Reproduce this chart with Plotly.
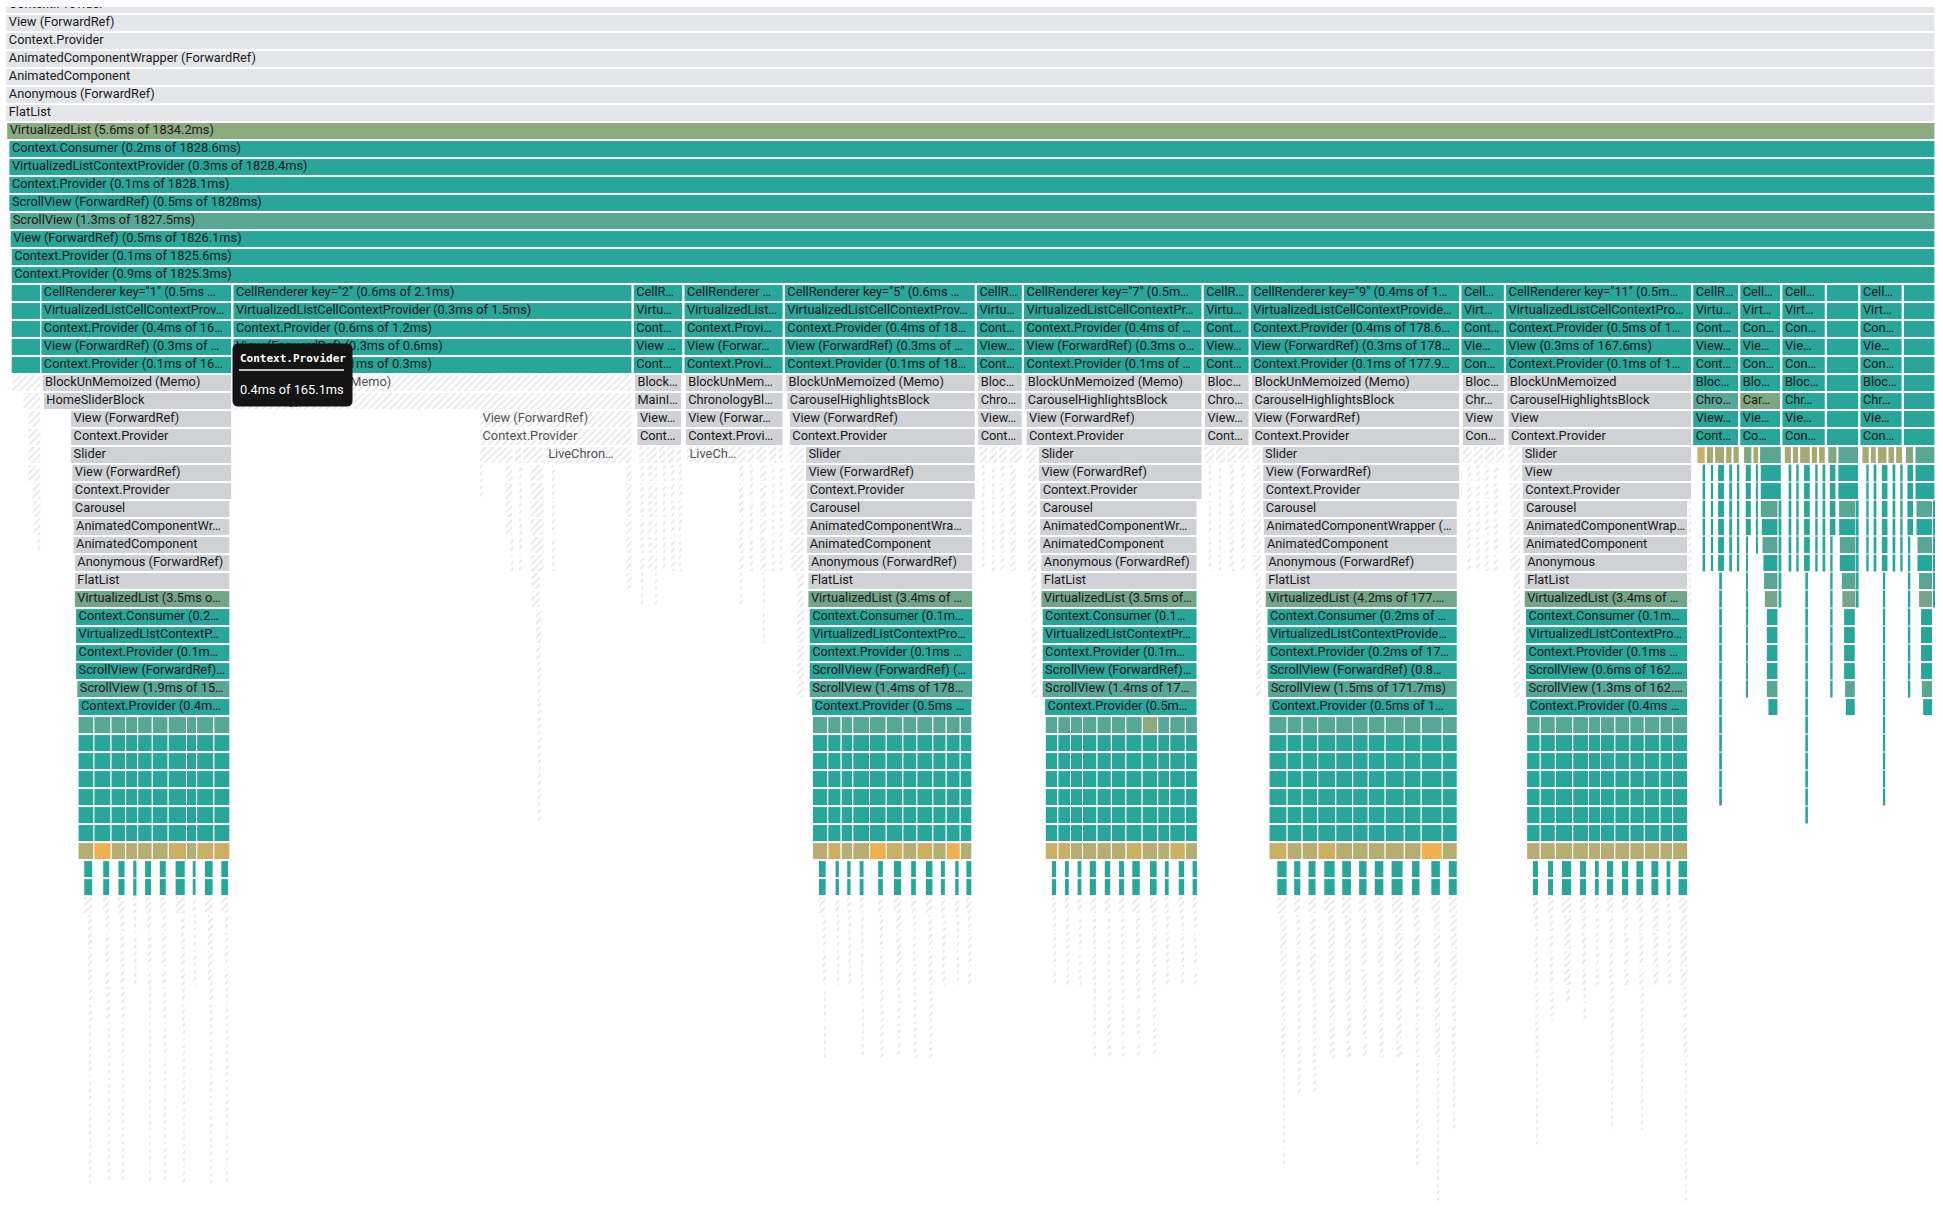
import plotly.graph_objects as go

# ---------------- DATA (timeline units, depth rows) ----------------
root_labels = ["Context.Provider", "View (ForwardRef)", "Context.Provider",
               "AnimatedComponentWrapper (ForwardRef)", "AnimatedComponent",
               "Anonymous (ForwardRef)", "FlatList",
               "VirtualizedList (5.6ms of 1834.2ms)",
               "Context.Consumer (0.2ms of 1828.6ms)",
               "VirtualizedListContextProvider (0.3ms of 1828.4ms)",
               "Context.Provider (0.1ms of 1828.1ms)",
               "ScrollView (ForwardRef) (0.5ms of 1828ms)",
               "ScrollView (1.3ms of 1827.5ms)",
               "View (ForwardRef) (0.5ms of 1826.1ms)",
               "Context.Provider (0.1ms of 1825.6ms)",
               "Context.Provider (0.9ms of 1825.3ms)"]
root_kinds = ["g0"] * 7 + ["v", "t", "t", "t", "t", "s", "t", "t", "t"]
root_start = [4.7] * 7 + [5.4, 7.2, 7.2, 7.2, 7.2, 7.9, 8.2, 9.0, 9.0]
root_end = [1561.5] * 16

cell_start = [9, 33, 188, 511, 552, 633, 788, 826, 971, 1009, 1179, 1215, 1366, 1404, 1438, 1474, 1501, 1536]
cell_end = [33, 187, 510, 551, 632, 787, 825, 970, 1008, 1178, 1214, 1365, 1403, 1437, 1473, 1500, 1535, 1561.5]
cell_labels = [
    ["", "", "", "", ""],
    ['CellRenderer key="1" (0.5ms …', "VirtualizedListCellContextProv…", "Context.Provider (0.4ms of 16…", "View (ForwardRef) (0.3ms of …", "Context.Provider (0.1ms of 16…"],
    ['CellRenderer key="2" (0.6ms of 2.1ms)', "VirtualizedListCellContextProvider (0.3ms of 1.5ms)", "Context.Provider (0.6ms of 1.2ms)", "View (ForwardRef) (0.3ms of 0.6ms)", "Context.Provider (0.1ms of 0.3ms)"],
    ["CellR…", "Virtu…", "Cont…", "View …", "Cont…"],
    ["CellRenderer …", "VirtualizedList…", "Context.Provi…", "View (Forwar…", "Context.Provi…"],
    ['CellRenderer key="5" (0.6ms …', "VirtualizedListCellContextProv…", "Context.Provider (0.4ms of 18…", "View (ForwardRef) (0.3ms of …", "Context.Provider (0.1ms of 18…"],
    ["CellR…", "Virtu…", "Cont…", "View…", "Cont…"],
    ['CellRenderer key="7" (0.5m…', "VirtualizedListCellContextPr…", "Context.Provider (0.4ms of …", "View (ForwardRef) (0.3ms o…", "Context.Provider (0.1ms of …"],
    ["CellR…", "Virtu…", "Cont…", "View…", "Cont…"],
    ['CellRenderer key="9" (0.4ms of 1…', "VirtualizedListCellContextProvide…", "Context.Provider (0.4ms of 178.6…", "View (ForwardRef) (0.3ms of 178…", "Context.Provider (0.1ms of 177.9…"],
    ["Cell…", "Virt…", "Cont…", "Vie…", "Con…"],
    ['CellRenderer key="11" (0.5m…', "VirtualizedListCellContextPro…", "Context.Provider (0.5ms of 1…", "View (0.3ms of 167.6ms)", "Context.Provider (0.1ms of 1…"],
    ["CellR…", "Virtu…", "Cont…", "View…", "Cont…"],
    ["Cell…", "Virt…", "Con…", "Vie…", "Con…"],
    ["Cell…", "Virt…", "Con…", "Vie…", "Con…"],
    ["", "", "", "", ""],
    ["Cell…", "Virt…", "Con…", "Vie…", "Con…"],
    ["", "", "", "", ""],
]

# (row, start, end, kind, label)
c0_bars = [(21, 9.7, 33, "h", ""), (22, 18.6, 33, "h", ""), (23, 22.6, 33, "h", ""),
           (24, 22.6, 33, "h", ""), (25, 22.6, 33, "h", ""), (26, 22.6, 33, "h", ""),
           (27, 25.8, 33, "h", ""), (28, 26.6, 33, "h", ""), (29, 26.6, 33, "h", ""),
           (30, 29.9, 33, "h", "")]

c1_bars = [(21, 34, 187, "g", "BlockUnMemoized (Memo)"), (22, 35, 187, "g", "HomeSliderBlock"),
           (23, 57, 187, "g", "View (ForwardRef)"), (24, 57, 187, "g", "Context.Provider"),
           (25, 57, 187, "g", "Slider"), (26, 58, 187, "g", "View (ForwardRef)"),
           (27, 58, 187, "g", "Context.Provider"), (28, 58, 185.5, "g", "Carousel"),
           (29, 59, 185.5, "g", "AnimatedComponentWr…"), (30, 59, 185.5, "g", "AnimatedComponent"),
           (31, 60, 185.5, "g", "Anonymous (ForwardRef)"), (32, 60, 185.5, "g", "FlatList"),
           (33, 60, 185.5, "w", "VirtualizedList (3.5ms o…"),
           (34, 61, 185.5, "t", "Context.Consumer (0.2…"),
           (35, 61, 185.5, "t", "VirtualizedListContextP…"),
           (36, 61, 185.5, "t", "Context.Provider (0.1m…"),
           (37, 61, 185.5, "t", "ScrollView (ForwardRef)…"),
           (38, 62, 185.5, "s", "ScrollView (1.9ms of 15…"),
           (39, 63, 185.5, "t", "Context.Provider (0.4m…")]

c2_bars = [(21, 188, 510, "h", "BlockUnMemoized (Memo)"), (22, 188, 510, "h", "ChronologyBlock"),
           (23, 387, 510, "h", "View (ForwardRef)"), (24, 387, 510, "h", "Context.Provider"),
           (25, 387, 414, "h", ""), (25, 415, 421, "h", ""), (25, 422, 439, "h", ""),
           (25, 440, 510, "h", "LiveChron…")]
c2_lines = [(387.4, 389.5, 26, 27), (407.6, 413.8, 26, 29), (412, 414.3, 30, 31), (419, 421, 26, 31),
            (427.8, 439, 26, 31), (428.6, 435.8, 32, 33), (432.3, 436.9, 34, 36), (434, 436.5, 37, 45),
            (445, 448, 26, 31), (505, 510, 26, 32)]

c3_bars = [(21, 512, 550, "g", "Block…"), (22, 512, 550, "g", "MainI…"),
           (23, 514, 550, "g", "View…"), (24, 514, 550, "g", "Cont…"),
           (25, 515.5, 520.5, "h", ""), (25, 521.3, 530.5, "h", ""), (25, 531.3, 537.5, "h", ""),
           (25, 538.1, 544.8, "h", ""), (25, 545.6, 550, "h", "")]
c3_lines = [(516.5, 519.9, 26, 31), (522.9, 526.9, 26, 31), (527.7, 530.9, 26, 31), (534.4, 537.6, 26, 31),
            (541, 544.8, 26, 31), (548, 550, 26, 31), (517.9, 519.2, 32, 33), (528.6, 530, 32, 33)]

c4_bars = [(21, 553, 632, "g", "BlockUnMem…"), (22, 553, 632, "g", "ChronologyBl…"),
           (23, 553, 632, "g", "View (Forwar…"), (24, 553, 632, "g", "Context.Provi…"),
           (25, 554, 602, "h", "LiveCh…"), (25, 603, 609, "h", ""), (25, 610, 619, "h", ""),
           (25, 620, 627, "h", ""), (25, 628, 632, "h", "")]
c4_lines = [(596, 600.4, 26, 31), (597.2, 598.8, 32, 33), (604.7, 607.9, 26, 31), (613.3, 618.7, 26, 31),
            (615.4, 617.3, 32, 35), (622.7, 625.4, 26, 31), (629.5, 631.6, 26, 31)]

c5_bars = [(21, 634, 787, "g", "BlockUnMemoized (Memo)"), (22, 635, 787, "g", "CarouselHighlightsBlock"),
           (23, 637, 787, "g", "View (ForwardRef)"), (24, 637, 787, "g", "Context.Provider"),
           (25, 637, 649, "h", ""), (25, 650, 787, "g", "Slider"),
           (26, 650, 787, "g", "View (ForwardRef)"), (27, 651, 787, "g", "Context.Provider"),
           (28, 651, 785, "g", "Carousel"), (29, 651, 785, "g", "AnimatedComponentWra…"),
           (30, 651, 785, "g", "AnimatedComponent"), (31, 652, 785, "g", "Anonymous (ForwardRef)"),
           (32, 652, 785, "g", "FlatList"), (33, 652, 785, "w", "VirtualizedList (3.4ms of …"),
           (34, 653, 785, "t", "Context.Consumer (0.1m…"),
           (35, 653, 785, "t", "VirtualizedListContextPro…"),
           (36, 653, 785, "t", "Context.Provider (0.1ms …"),
           (37, 653, 785, "t", "ScrollView (ForwardRef) (…"),
           (38, 653, 785, "s", "ScrollView (1.4ms of 178…"),
           (39, 655, 784.3, "t", "Context.Provider (0.5ms …")]
c5_lines = [(638, 649, 26, 31), (643, 649, 32, 38)]

c6_bars = [(21, 789, 825, "g", "Bloc…"), (22, 789, 825, "g", "Chro…"),
           (23, 789, 825, "g", "View…"), (24, 789, 825, "g", "Cont…"),
           (25, 790, 797, "h", ""), (25, 798, 805, "h", ""), (25, 806, 813, "h", ""), (25, 814, 825, "h", "")]
c6_lines = [(792, 795, 26, 31), (800, 803, 26, 31), (807, 811, 26, 31), (815, 820, 26, 31)]

c7_bars = [(21, 827, 970, "g", "BlockUnMemoized (Memo)"), (22, 827, 970, "g", "CarouselHighlightsBlock"),
           (23, 828, 970, "g", "View (ForwardRef)"), (24, 828, 970, "g", "Context.Provider"),
           (25, 828, 837, "h", ""), (25, 838, 970, "g", "Slider"),
           (26, 838, 970, "g", "View (ForwardRef)"), (27, 839, 970, "g", "Context.Provider"),
           (28, 839, 966, "g", "Carousel"), (29, 839, 966, "g", "AnimatedComponentWr…"),
           (30, 839, 966, "g", "AnimatedComponent"), (31, 840, 966, "g", "Anonymous (ForwardRef)"),
           (32, 840, 966, "g", "FlatList"), (33, 840, 966, "w", "VirtualizedList (3.5ms of…"),
           (34, 841, 966, "t", "Context.Consumer (0.1…"),
           (35, 841, 966, "t", "VirtualizedListContextPr…"),
           (36, 841, 966, "t", "Context.Provider (0.1m…"),
           (37, 841, 966, "t", "ScrollView (ForwardRef)…"),
           (38, 841, 966, "s", "ScrollView (1.4ms of 17…"),
           (39, 843, 966, "t", "Context.Provider (0.5m…")]
c7_lines = [(829, 837, 26, 31), (832, 837, 32, 38)]

c8_bars = [(21, 972, 1008, "g", "Bloc…"), (22, 972, 1008, "g", "Chro…"),
           (23, 972, 1008, "g", "View…"), (24, 972, 1008, "g", "Cont…"),
           (25, 972, 980, "h", ""), (25, 981, 989, "h", ""), (25, 990, 998, "h", ""), (25, 999, 1008, "h", "")]
c8_lines = [(975, 978, 26, 31), (983, 986, 26, 31), (992, 996, 26, 31), (1001, 1005, 26, 31)]

c9_bars = [(21, 1010, 1178, "g", "BlockUnMemoized (Memo)"), (22, 1010, 1178, "g", "CarouselHighlightsBlock"),
           (23, 1010, 1178, "g", "View (ForwardRef)"), (24, 1010, 1178, "g", "Context.Provider"),
           (25, 1010, 1018, "h", ""), (25, 1018.5, 1178, "g", "Slider"),
           (26, 1019, 1178, "g", "View (ForwardRef)"), (27, 1019, 1178, "g", "Context.Provider"),
           (28, 1019, 1176, "g", "Carousel"), (29, 1019.5, 1176, "g", "AnimatedComponentWrapper (…"),
           (30, 1020, 1176, "g", "AnimatedComponent"), (31, 1021, 1176, "g", "Anonymous (ForwardRef)"),
           (32, 1021, 1176, "g", "FlatList"), (33, 1021, 1176, "w", "VirtualizedList (4.2ms of 177.…"),
           (34, 1022.5, 1176, "t", "Context.Consumer (0.2ms of …"),
           (35, 1022.5, 1176, "t", "VirtualizedListContextProvide…"),
           (36, 1022.5, 1176, "t", "Context.Provider (0.2ms of 17…"),
           (37, 1022.5, 1176, "t", "ScrollView (ForwardRef) (0.8…"),
           (38, 1023, 1176, "s", "ScrollView (1.5ms of 171.7ms)"),
           (39, 1024, 1176, "t", "Context.Provider (0.5ms of 1…")]
c9_lines = [(1011, 1018, 26, 31), (1013, 1018, 32, 38)]

c10_bars = [(21, 1180, 1214, "g", "Bloc…"), (22, 1180, 1214, "g", "Chr…"),
            (23, 1180, 1214, "g", "View"), (24, 1180, 1214, "g", "Con…"),
            (25, 1180, 1188, "h", ""), (25, 1189, 1197, "h", ""), (25, 1198, 1206, "h", ""), (25, 1207, 1214, "h", "")]
c10_lines = [(1183.8, 1187.4, 26, 31), (1191, 1194.6, 26, 31), (1198.2, 1201.8, 26, 31), (1205.4, 1209, 26, 31)]

c11_bars = [(21, 1216, 1365, "g", "BlockUnMemoized"), (22, 1216, 1365, "g", "CarouselHighlightsBlock"),
            (23, 1217, 1365, "g", "View"), (24, 1217, 1365, "g", "Context.Provider"),
            (25, 1217, 1227, "h", ""), (25, 1228, 1365, "g", "Slider"),
            (26, 1228, 1365, "g", "View"), (27, 1228.5, 1365, "g", "Context.Provider"),
            (28, 1229, 1362, "g", "Carousel"), (29, 1229, 1362, "g", "AnimatedComponentWrap…"),
            (30, 1229, 1362, "g", "AnimatedComponent"), (31, 1230, 1362, "g", "Anonymous"),
            (32, 1230, 1362, "g", "FlatList"), (33, 1230, 1362, "w", "VirtualizedList (3.4ms of …"),
            (34, 1231, 1362, "t", "Context.Consumer (0.1m…"),
            (35, 1231, 1362, "t", "VirtualizedListContextPro…"),
            (36, 1231, 1362, "t", "Context.Provider (0.1ms …"),
            (37, 1231, 1362, "t", "ScrollView (0.6ms of 162.…"),
            (38, 1231, 1362, "s", "ScrollView (1.3ms of 162.…"),
            (39, 1232, 1362, "t", "Context.Provider (0.4ms …")]
c11_lines = [(1218, 1227, 26, 31), (1221, 1227, 32, 38), (1362, 1365, 28, 33)]

# right-hand compact columns, rows 21-24
right_top_bars = [(21, 1366, 1403, "t", "Bloc…"), (22, 1366, 1403, "s", "Chro…"), (23, 1366, 1403, "t", "View…"), (24, 1366, 1403, "t", "Cont…"),
                  (21, 1404, 1437, "t", "Blo…"), (22, 1404, 1437, "m", "Car…"), (23, 1404, 1437, "t", "Vie…"), (24, 1404, 1437, "t", "Co…"),
                  (21, 1438, 1473, "t", "Bloc…"), (22, 1438, 1473, "t", "Chr…"), (23, 1438, 1473, "t", "Vie…"), (24, 1438, 1473, "t", "Con…"),
                  (21, 1474, 1500, "t", ""), (22, 1474, 1500, "t", ""), (23, 1474, 1500, "t", ""), (24, 1474, 1500, "t", ""),
                  (21, 1501, 1535, "t", "Bloc…"), (22, 1501, 1535, "t", "Chr…"), (23, 1501, 1535, "t", "Vie…"), (24, 1501, 1535, "t", "Con…"),
                  (21, 1536, 1561.5, "t", ""), (22, 1536, 1561.5, "t", ""), (23, 1536, 1561.5, "t", ""), (24, 1536, 1561.5, "t", "")]
# row 25 cells of the compact columns
right_row25 = [(1369.4, 1376.1, "y"), (1377, 1382.9, "l"), (1383.7, 1391.7, "l"), (1392.6, 1397.7, "l"), (1398.5, 1403.6, "l"),
               (1407.1, 1413.8, "m"), (1414.6, 1419.2, "l"), (1420, 1437.5, "s"),
               (1439.9, 1445.6, "l"), (1446.4, 1451.5, "l"), (1452.3, 1460.9, "l"), (1461.7, 1466.8, "l"), (1467.6, 1473, "l"),
               (1475.1, 1482.4, "m"), (1483.2, 1499.9, "s"),
               (1502.6, 1508.5, "l"), (1509.3, 1514.2, "l"), (1515, 1522.8, "l"), (1523.6, 1529, "l"), (1529.8, 1535.4, "l"),
               (1537.6, 1544.3, "m"), (1545.4, 1561.5, "s")]
# (start, end, first row, last row, kind)
right_stacks = [(1374.0, 1376.1, 26, 31, "t"), (1380.2, 1382.9, 26, 31, "t"), (1386.1, 1391.7, 26, 31, "t"),
                (1387.4, 1389.6, 32, 44, "t"), (1395.5, 1397.7, 26, 31, "t"), (1401.7, 1403.6, 26, 31, "t"),
                (1408.4, 1413.3, 26, 29, "t"), (1409.2, 1410.6, 30, 38, "t"), (1417.3, 1418.6, 26, 30, "t"),
                (1420.5, 1437.5, 26, 27, "t"), (1420.5, 1434.8, 28, 28, "s"), (1421.3, 1434.8, 29, 29, "t"),
                (1421.9, 1434.8, 30, 30, "s"), (1422.7, 1434.8, 31, 31, "t"), (1423.2, 1434.8, 32, 32, "s"),
                (1423.8, 1434.8, 33, 33, "w"), (1425.4, 1434.8, 34, 37, "t"), (1425.4, 1434.8, 38, 38, "s"),
                (1426.7, 1434.8, 39, 39, "t"), (1435.3, 1437.5, 28, 33, "t"),
                (1443.4, 1445.6, 26, 31, "t"), (1449.6, 1451.5, 26, 31, "t"), (1455.5, 1460.9, 26, 31, "t"),
                (1456.9, 1459.0, 32, 45, "t"), (1464.9, 1466.8, 26, 31, "t"), (1470.8, 1473.0, 26, 31, "t"),
                (1476.2, 1481.6, 26, 29, "t"), (1477.0, 1478.9, 30, 38, "t"),
                (1483.2, 1499.9, 26, 27, "t"), (1483.8, 1497.7, 28, 28, "s"), (1483.8, 1497.7, 29, 29, "t"),
                (1484.3, 1497.7, 30, 30, "s"), (1484.3, 1497.7, 31, 31, "t"), (1485.9, 1497.7, 32, 32, "s"),
                (1486.4, 1497.7, 33, 33, "w"), (1487.8, 1497.2, 34, 37, "t"), (1488.6, 1497.2, 38, 38, "s"),
                (1489.1, 1497.2, 39, 39, "t"), (1497.7, 1499.9, 28, 33, "t"),
                (1506.1, 1508.0, 26, 31, "t"), (1512.0, 1514.2, 26, 31, "t"), (1518.2, 1523.6, 26, 31, "t"),
                (1519.5, 1521.4, 32, 44, "t"), (1527.3, 1529.5, 26, 31, "t"), (1533.5, 1535.4, 26, 31, "t"),
                (1538.9, 1544.3, 26, 29, "t"), (1539.7, 1541.6, 30, 38, "t"),
                (1545.4, 1561.5, 26, 27, "t"), (1546.2, 1559.6, 28, 28, "s"), (1546.2, 1559.6, 29, 29, "t"),
                (1547.0, 1559.6, 30, 30, "s"), (1547.0, 1559.6, 31, 31, "t"), (1548.3, 1559.6, 32, 32, "s"),
                (1548.3, 1559.6, 33, 33, "w"), (1549.9, 1559.6, 34, 37, "t"), (1550.5, 1559.6, 38, 38, "s"),
                (1551.6, 1559.6, 39, 39, "t"), (1560.0, 1561.5, 28, 33, "t")]

# nested list items (rows 40-49) of the five carousels
c1_cells = [63, 75.8, 89.6, 101.4, 111.1, 122.9, 135.7, 150.5, 158.7, 172.6, 185.5]
c1_row40 = "ssssssssss"
c1_row47 = "kokkkkykyy"
c1_inner = [(67.6, 74.8), (82.9, 88.6), (95.2, 100.9), (107.5, 110.1), (116.7, 122.4),
            (128.5, 134.2), (141.3, 149.5), (155.1, 158.2), (164.9, 172.0), (178.2, 184.5)]
c1_tails = [(70.5, 74.8, 51, 54), (71.3, 74.8, 55, 56), (72.6, 73.8, 57, 65),
            (85.0, 88.6, 51, 54), (86.1, 88.6, 55, 56), (87.2, 88.4, 57, 65),
            (96.9, 100.9, 51, 54), (97.6, 100.9, 55, 56), (98.9, 100.1, 57, 65),
            (108.5, 110.1, 51, 54),
            (118.9, 122.4, 51, 54), (119.7, 122.4, 55, 56), (120.4, 121.6, 57, 65),
            (130.7, 134.2, 51, 54), (131.3, 134.2, 55, 56), (132.8, 134.0, 57, 65),
            (145.8, 149.5, 51, 54), (146.6, 149.5, 55, 56), (147.9, 149.1, 57, 65),
            (156.5, 158.2, 51, 54),
            (167.3, 172.0, 51, 54), (168.7, 172.0, 55, 56), (169.7, 170.9, 57, 65),
            (181.0, 184.5, 51, 54), (181.6, 184.5, 55, 56), (182.7, 183.9, 57, 65)]

c5_cells = [655.6, 668.0, 678.8, 688.2, 701.7, 715.2, 728.6, 739.9, 752.8, 763.6, 774.9, 784.3]
c5_row40 = "sssssssssss"
c5_row47 = "kykkoykykok"
c5_inner = [(660.5, 666.7), (673.9, 677.4), (683.3, 686.8), (693.3, 697.3), (708.3, 712.9), (720.9, 727.7),
            (734.9, 739.5), (746.7, 752.9), (758.9, 762.9), (770.5, 774.0), (779.5, 784.3)]
c5_tails = [(663.5, 666.7, 51, 54), (665.0, 666.4, 55, 58), (675.5, 677.4, 51, 54), (684.7, 686.8, 51, 54),
            (694.5, 697.3, 51, 54), (695.5, 697.3, 55, 58), (709.5, 712.9, 51, 54), (710.5, 712.9, 55, 58),
            (723.0, 727.7, 51, 54), (724.0, 727.0, 55, 58), (736.5, 739.5, 51, 54), (737.5, 739.5, 55, 58),
            (749.0, 752.9, 51, 54), (750.0, 752.5, 55, 58), (760.5, 762.9, 51, 54), (772.0, 774.0, 51, 54),
            (781.0, 784.3, 51, 54)]

c7_cells = [843.5, 853.7, 863.9, 873.6, 885.3, 896.9, 908.6, 921.7, 934.3, 944.0, 956.6, 966.3]
c7_row40 = "sssssssvsss"
c7_row47 = "yykkkkykkyk"
c7_inner = [(848.4, 852.7), (859.0, 862.9), (869.2, 873.1), (879.0, 884.8), (891.1, 896.4), (902.7, 907.6),
            (913.4, 920.2), (927.5, 933.8), (939.6, 943.5), (950.8, 956.1), (962.0, 966.3)]
c7_tails = [(849.8, 852.7, 51, 54), (860.5, 862.9, 51, 54), (870.2, 873.1, 51, 54), (881.4, 884.8, 51, 54),
            (882.0, 884.8, 55, 58), (893.5, 896.4, 51, 54), (894.0, 896.4, 55, 58), (904.2, 907.6, 51, 54),
            (905.0, 907.6, 55, 58), (916.3, 920.2, 51, 54), (917.3, 920.2, 55, 58), (929.4, 933.8, 51, 54),
            (930.0, 933.3, 55, 58), (941.1, 943.5, 51, 54), (952.7, 956.1, 51, 54), (963.4, 966.3, 51, 54)]

c9_cells = [1024.1, 1038.7, 1050.8, 1063.4, 1078.0, 1091.6, 1104.2, 1117.8, 1133.3, 1146.9, 1163.9, 1176]
c9_row40 = "sssssssssss"
c9_row47 = "ykkykkkkkok"
c9_inner = [(1030.4, 1038.7), (1044.0, 1049.8), (1055.6, 1062.0), (1068.3, 1077.5), (1082.8, 1090.6),
            (1096.4, 1103.2), (1109.0, 1116.8), (1122.6, 1132.3), (1139.1, 1145.9), (1154.7, 1162.4),
            (1168.7, 1176.0)]
c9_tails = [(1032.8, 1038.7, 51, 54), (1033.5, 1037.7, 55, 58), (1035.5, 1037.2, 59, 64),
            (1045.9, 1049.8, 51, 54), (1047.4, 1049.8, 55, 60),
            (1057.1, 1062.0, 51, 54), (1059.5, 1062.0, 55, 60),
            (1071.7, 1077.5, 51, 54), (1072.6, 1077.5, 55, 58),
            (1084.8, 1090.6, 51, 54), (1086.2, 1090.6, 55, 58),
            (1098.4, 1103.2, 51, 54), (1099.5, 1103.2, 55, 58),
            (1111.5, 1116.8, 51, 54), (1112.9, 1116.8, 55, 58),
            (1125.1, 1132.3, 51, 54), (1126.5, 1131.4, 55, 58),
            (1140.6, 1145.9, 51, 54), (1142.0, 1145.4, 55, 58), (1143.5, 1145.0, 59, 64),
            (1156.6, 1162.4, 51, 54), (1157.6, 1162.4, 55, 58), (1159.5, 1161.5, 59, 66),
            (1170.2, 1176.0, 51, 54), (1171.2, 1175.1, 55, 58), (1172.5, 1174.5, 59, 62)]

c11_cells = [1232, 1243.0, 1255.2, 1269.2, 1281.9, 1291.6, 1303.2, 1315.3, 1327.0, 1339.6, 1349.8, 1362]
c11_row40 = "sssssssssss"
c11_row47 = "kkkkkkkkkkk"
c11_inner = [(1236.7, 1241.6), (1248.9, 1253.7), (1260.0, 1268.3), (1274.6, 1280.4), (1286.7, 1290.6),
             (1296.4, 1302.3), (1308.6, 1314.4), (1320.2, 1326.5), (1332.3, 1338.7), (1344.5, 1348.4),
             (1354.2, 1362.0)]
c11_tails = [(1238.2, 1241.6, 51, 54), (1239.1, 1241.6, 55, 58), (1239.8, 1241.2, 59, 63),
             (1250.3, 1253.7, 51, 54), (1251.3, 1253.7, 55, 56),
             (1262.0, 1268.3, 51, 54), (1263.4, 1267.3, 55, 55),
             (1276.5, 1280.4, 51, 54), (1277.5, 1280.4, 55, 56),
             (1287.7, 1290.6, 51, 54),
             (1298.4, 1302.3, 51, 54), (1299.8, 1302.3, 55, 58), (1300.5, 1302.0, 59, 62),
             (1310.5, 1314.4, 51, 54),
             (1322.6, 1326.5, 51, 54), (1324.1, 1326.5, 55, 58), (1324.8, 1326.2, 59, 62),
             (1333.8, 1338.7, 51, 54), (1345.9, 1348.4, 51, 54),
             (1355.7, 1362.0, 51, 54), (1358.1, 1362.0, 55, 58), (1359.5, 1361.5, 59, 66)]

tooltip_title = "Context.Provider"
tooltip_value = "0.4ms of 165.1ms"

# ---------------- STYLE ----------------
COLORS = {"g0": "#e4e5e8", "g": "#cfd1d5", "t": "#28a69a", "s": "#57a794", "v": "#8bab7f",
          "w": "#72a687", "k": "#b6ad71", "y": "#cbaf62", "o": "#efb14d", "l": "#a8a873", "m": "#7ea680"}
FONT = "Roboto, 'Noto Sans', sans-serif"
FS = 12.8

bars = []


def add(row, x0, x1, kind, label=""):
    bars.append((row, x0, x1, kind, label))


for i, lab in enumerate(root_labels):
    add(i, root_start[i], root_end[i], root_kinds[i], lab)
for j in range(len(cell_start)):
    for k in range(5):
        add(16 + k, cell_start[j], cell_end[j], "t", cell_labels[j][k])

for group in [c0_bars, c1_bars, c2_bars, c3_bars, c4_bars, c5_bars, c6_bars, c7_bars,
              c8_bars, c9_bars, c10_bars, c11_bars, right_top_bars]:
    for b in group:
        add(*b)
for group in [c2_lines, c3_lines, c4_lines, c5_lines, c6_lines, c7_lines, c8_lines, c9_lines,
              c10_lines, c11_lines]:
    for (a, b, r0, r1) in group:
        for r in range(r0, r1 + 1):
            add(r, a, b, "h")
for (a, b, k) in right_row25:
    add(25, a, b, k)
for (a, b, r0, r1, k) in right_stacks:
    for r in range(r0, r1 + 1):
        add(r, a, b, k)

carousels = [(c1_cells, c1_row40, c1_row47, c1_inner, c1_tails),
             (c5_cells, c5_row40, c5_row47, c5_inner, c5_tails),
             (c7_cells, c7_row40, c7_row47, c7_inner, c7_tails),
             (c9_cells, c9_row40, c9_row47, c9_inner, c9_tails),
             (c11_cells, c11_row40, c11_row47, c11_inner, c11_tails)]
for cells, r40, r47, inner, tails in carousels:
    for i in range(len(cells) - 1):
        a, b = cells[i], cells[i + 1]
        add(40, a, b, r40[i])
        for r in range(41, 47):
            add(r, a, b, "t")
        add(47, a, b, r47[i])
    for (a, b) in inner:
        add(48, a, b, "t")
        add(49, a, b, "t")
        add(50, a, b, "h")
    for (a, b, r0, r1) in tails:
        for r in range(r0, r1 + 1):
            add(r, a, b, "h")

fig = go.Figure()

groups = {}
for (row, x0, x1, kind, label) in bars:
    thin = (x1 - x0) < 2.6
    groups.setdefault((kind, thin), []).append((row, x0, x1))

for (kind, thin), items in groups.items():
    lw = 0 if thin else 1
    if kind == "h":
        marker = dict(color="white", line=dict(color="white", width=lw),
                      pattern=dict(shape="/", fgcolor="#cfd0d5", bgcolor="white", size=5, solidity=0.35))
    else:
        marker = dict(color=COLORS[kind], line=dict(color="white", width=lw))
    fig.add_trace(go.Bar(
        orientation="h",
        y=[it[0] for it in items],
        base=[it[1] for it in items],
        x=[it[2] - it[1] for it in items],
        width=0.94,
        marker=marker,
        hoverinfo="skip",
        showlegend=False,
    ))

dark = [(b[1], b[0], b[4]) for b in bars if b[4] and b[3] != "h"]
light = [(b[1], b[0], b[4]) for b in bars if b[4] and b[3] == "h"]
for items, col in [(dark, "#1a1a1c"), (light, "#555555")]:
    fig.add_trace(go.Scatter(
        x=[it[0] + 2.4 for it in items], y=[it[1] for it in items], text=[it[2] for it in items],
        mode="text", textposition="middle right",
        textfont=dict(family=FONT, size=FS, color=col),
        hoverinfo="skip", showlegend=False, cliponaxis=True,
    ))

W, H, TOP = 1943, 1219, 7


def px(x):
    return x / W


def py(y):
    return (H - y) / (H - TOP)


# tooltip overlay (screen position of the hover card)
x0, x1, y0, y1, rad = 233, 352, 344, 406, 5
path = (f"M {px(x0 + rad)},{py(y0)} L {px(x1 - rad)},{py(y0)} Q {px(x1)},{py(y0)} {px(x1)},{py(y0 + rad)} "
        f"L {px(x1)},{py(y1 - rad)} Q {px(x1)},{py(y1)} {px(x1 - rad)},{py(y1)} "
        f"L {px(x0 + rad)},{py(y1)} Q {px(x0)},{py(y1)} {px(x0)},{py(y1 - rad)} "
        f"L {px(x0)},{py(y0 + rad)} Q {px(x0)},{py(y0)} {px(x0 + rad)},{py(y0)} Z")
fig.add_shape(type="path", path=path, xref="paper", yref="paper",
              fillcolor="#141414", line=dict(color="#141414", width=1), layer="above")
fig.add_shape(type="line", xref="paper", yref="paper", x0=px(239), x1=px(344), y0=py(370), y1=py(370),
              line=dict(color="white", width=1.5), layer="above")
fig.add_annotation(xref="paper", yref="paper", x=px(238), y=py(358), xanchor="left", yanchor="middle",
                   text=f"<b>{tooltip_title}</b>", showarrow=False,
                   font=dict(family="DejaVu Sans Mono, monospace", size=11, color="white"))
fig.add_annotation(xref="paper", yref="paper", x=px(238), y=py(389), xanchor="left", yanchor="middle",
                   text=tooltip_value, showarrow=False,
                   font=dict(family=FONT, size=FS, color="white"))

fig.update_layout(
    width=W, height=H,
    margin=dict(l=0, r=0, t=TOP, b=0, pad=0),
    barmode="overlay",
    plot_bgcolor="white", paper_bgcolor="white",
    xaxis=dict(range=[0, 1568], visible=False, fixedrange=True),
    yaxis=dict(range=[67.44, 0.111], visible=False, fixedrange=True),
    showlegend=False,
)

fig.write_html("out.html", config={"displayModeBar": False},
               post_script="document.body.style.margin='0';")
